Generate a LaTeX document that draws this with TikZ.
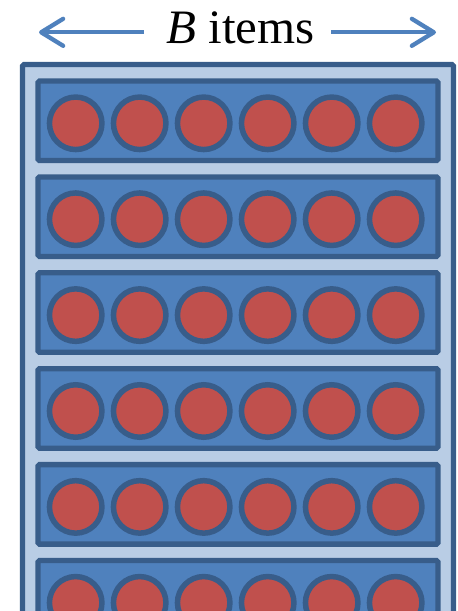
\documentclass[tikz,border=0pt]{standalone}
\usepackage{fontspec}
\setmainfont{Liberation Serif}
\newfontfamily\lblfont[FakeStretch=1.02]{Liberation Serif}
\usetikzlibrary{arrows.meta}
\definecolor{outerfill}{RGB}{185,205,229}
\definecolor{edge}{RGB}{56,93,138}
\definecolor{rowfill}{RGB}{79,129,189}
\definecolor{itemfill}{RGB}{192,80,77}
\definecolor{arrowblue}{RGB}{79,129,189}
\tikzset{
  outerbox/.style={draw=edge, fill=outerfill, line width=5.3pt, rounded corners=1.5pt},
  rowbox/.style={draw=edge, fill=rowfill, line width=5.3pt, rounded corners=1.5pt},
  item/.style={draw=edge, fill=itemfill, line width=5.5pt},
  dimarrow/.style={draw=arrowblue, line width=4.3pt, -{Straight Barb[length=22pt, width=27pt, line cap=round, line join=round]}}
}
\begin{document}
\begin{tikzpicture}[x=1pt, y=-1pt]
\useasboundingbox (0,0) rectangle (458,611);
\clip (0,0) rectangle (458,611);
% label and arrows
\node[anchor=base, inner sep=0pt, font=\lblfont\fontsize{48}{50}\selectfont] (lbl) at (240.5,43) {\textit{B} items};
\coordinate (lstart) at (144,32.3);
\coordinate (lend) at (39,32.3);
\coordinate (rstart) at (331,32.3);
\coordinate (rend) at (436,32.3);
\draw[dimarrow] (lstart) -- (lend);
\draw[dimarrow] (rstart) -- (rend);
% outer container
\draw[outerbox] (22.5,64.5) rectangle (453.5,700);
% rows
\foreach \r in {0,...,5}{
  \pgfmathsetmacro{\top}{81+95.9*\r}
  \pgfmathsetmacro{\bot}{160.5+95.9*\r}
  \pgfmathsetmacro{\cy}{123.3+95.9*\r}
  \draw[rowbox] (38,\top) rectangle (438,\bot);
  \foreach \c in {0,...,5}{
    \pgfmathsetmacro{\cx}{75.7+64*\c}
    \node[item, circle, minimum size=52.5pt, inner sep=0pt] (it-\r-\c) at (\cx,\cy) {};
  }
}
\end{tikzpicture}
\end{document}
